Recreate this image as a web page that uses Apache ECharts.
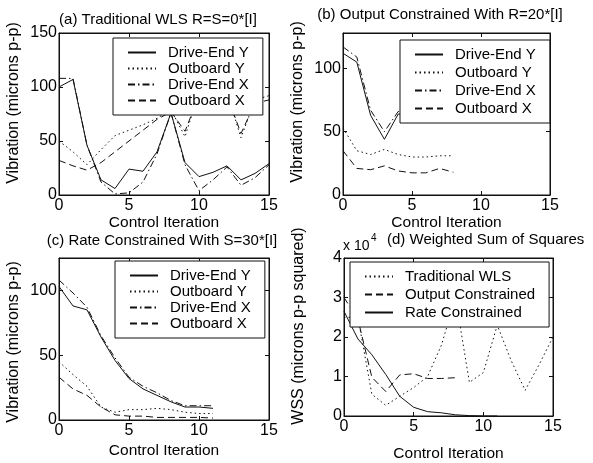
<!DOCTYPE html>
<html>
<head>
<meta charset="utf-8">
<script src="https://cdn.jsdelivr.net/npm/echarts@6/dist/echarts.min.js"></script>
<style>
  html, body { margin: 0; padding: 0; background: #fff; }
  #chart { width: 593px; height: 463px; }
</style>
</head>
<body>
<div id="chart"></div>
<script>
// iterations
const iterA = [0, 1, 2, 3, 4, 5, 6, 7, 8, 9, 10, 11, 12, 13, 14, 15]
const iterB = [0, 1, 2, 3, 4, 5, 6, 7, 8]
const iterC = [0, 1, 2, 3, 4, 5, 6, 7, 8, 9, 10, 11]

// (a) traditional WLS, microns p-p
const aDriveY = [100, 107, 46, 14, 6, 24, 22, 40, 76, 30, 17, 21, 27, 14, 20, 29]
const aOutY = [50, 40, 28, 42, 55, 60, 65, 71, 79, 54, 95, 100, 95, 53, 88, 92]
const aDriveX = [108, 108, 46, 12, 1, 2, 12, 38, 76, 28, 4, 14, 26, 9, 16, 28]
const aOutX = [32, 27, 23, 30, 40, 50, 60, 70, 77, 59, 92, 98, 92, 57, 85, 88]

// (b) output constrained
const bDriveY = [112, 105, 63, 44, 64, 63, 61, 61, 62]
const bOutY = [53, 35, 32, 36, 32, 30, 30, 31, 31]
const bDriveX = [117, 109, 67, 50, 66, 66, 64, 64, 65]
const bOutX = [35, 21, 20, 23, 19, 17.5, 17.5, 21, 18]

// (c) rate constrained
const cDriveY = [103, 88, 85, 64, 46, 32, 24, 19, 14, 10, 10, 9]
const cOutY = [45, 35, 26, 10, 6, 8, 8, 9, 8, 6, 5, 5]
const cDriveX = [108, 98, 87, 65, 48, 33, 26, 21, 15, 11, 11, 11]
const cOutX = [33, 24, 19, 10, 4, 3, 3, 2, 2, 2, 2, 1.5]

// (d) weighted sum of squares
const wssTrad = [25000, 25000, 5500, 2700, 5000, 7200, 10000, 18000, 30000, 8500, 11000, 23000, 14000, 6500, 13000, 20000]
const wssOutput = [30000, 24500, 9800, 6200, 10400, 10700, 9500, 9500, 9700]
const wssRate = [26500, 19500, 15500, 10500, 5000, 2200, 1100, 800, 300, 100, 0, 0]

const vibNames = ['Drive-End Y', 'Outboard Y', 'Drive-End X', 'Outboard X']
const wssNames = ['Traditional WLS', 'Output Constrained', 'Rate Constrained']

const FONT = 'Liberation Sans, Arial, sans-serif'
const INK = '#111'
const SOLID = 'solid'
const DOT = [1.5, 3]
const DASH = [7, 4]
const DASHDOT = [7, 3, 1.5, 3]

const grids = [
  { left: 59, top: 33, width: 210, height: 162 },
  { left: 343, top: 33, width: 207, height: 162 },
  { left: 59, top: 258, width: 210, height: 162 },
  { left: 344, top: 258, width: 209, height: 162 }
]

const yConf = [
  { max: 150, interval: 50, name: 'Vibration (microns p-p)', pad: [0, 0, 0, 22] },
  { max: 128, interval: 50, name: 'Vibration (microns p-p)', pad: [0, 0, 0, 24] },
  { max: 125, interval: 50, name: 'Vibration (microns p-p)', pad: [0, 6, 0, 0] },
  { max: 40000, interval: 10000, name: 'WSS (microns p-p squared)', pad: [0, 0, 0, 22], fmt: v => v / 10000 }
]
const xNameGap = [18, 17, 23, 30]

const tick = { show: true, inside: true, length: 4, lineStyle: { color: INK } }
const line = { show: true, onZero: false, lineStyle: { color: INK, width: 1 } }

const xAxis = []
const yAxis = []
grids.forEach((g, i) => {
  xAxis.push({
    type: 'value', gridIndex: i, min: 0, max: 15, interval: 5,
    axisLine: line, axisTick: tick, splitLine: { show: false },
    axisLabel: { color: '#000', fontFamily: FONT, fontSize: 16, margin: 3 },
    name: 'Control Iteration', nameLocation: 'middle', nameGap: xNameGap[i],
    nameTextStyle: { color: '#000', fontFamily: FONT, fontSize: 15.5 }
  })
  xAxis.push({
    type: 'value', gridIndex: i, position: 'top', min: 0, max: 15, interval: 5,
    axisLine: line, axisTick: tick, splitLine: { show: false }, axisLabel: { show: false }
  })
  const yc = yConf[i]
  yAxis.push({
    type: 'value', gridIndex: i, min: 0, max: yc.max, interval: yc.interval,
    axisLine: line, axisTick: tick, splitLine: { show: false },
    axisLabel: { color: '#000', fontFamily: FONT, fontSize: 16, margin: 2, showMaxLabel: yc.max % yc.interval === 0, formatter: yc.fmt },
    name: yc.name, nameLocation: 'middle', nameGap: 37,
    nameTextStyle: { color: '#000', fontFamily: FONT, fontSize: 16, padding: yc.pad }
  })
  yAxis.push({
    type: 'value', gridIndex: i, position: 'right', min: 0, max: yc.max, interval: yc.interval,
    axisLine: line, axisTick: tick, splitLine: { show: false }, axisLabel: { show: false }
  })
})

const mk = (name, xs, ys, dash, gi) => ({
  name, type: 'line', xAxisIndex: gi * 2, yAxisIndex: gi * 2,
  data: xs.map((x, k) => [x, ys[k]]),
  showSymbol: false, symbol: 'none',
  lineStyle: { color: INK, width: 1, type: dash }, itemStyle: { color: INK },
  emphasis: { disabled: true }
})

const series = [
  mk('Drive-End Y', iterA, aDriveY, SOLID, 0),
  mk('Outboard Y', iterA, aOutY, DOT, 0),
  mk('Drive-End X', iterA, aDriveX, DASHDOT, 0),
  mk('Outboard X', iterA, aOutX, DASH, 0),
  mk('Drive-End Y', iterB, bDriveY, SOLID, 1),
  mk('Outboard Y', iterB, bOutY, DOT, 1),
  mk('Drive-End X', iterB, bDriveX, DASHDOT, 1),
  mk('Outboard X', iterB, bOutX, DASH, 1),
  mk('Drive-End Y', iterC, cDriveY, SOLID, 2),
  mk('Outboard Y', iterC, cOutY, DOT, 2),
  mk('Drive-End X', iterC, cDriveX, DASHDOT, 2),
  mk('Outboard X', iterC, cOutX, DASH, 2),
  mk('Traditional WLS', iterA, wssTrad, DOT, 3),
  mk('Output Constrained', iterB, wssOutput, DASH, 3),
  mk('Rate Constrained', iterC, wssRate, SOLID, 3)
]

// legend swatch: line only, hide the default circle marker
const legendAt = (left, top, data, gap) => ({
  left, top, orient: 'vertical', data, itemGap: gap,
  itemWidth: 28, itemHeight: 14, padding: [7, 14, 7, 14],
  backgroundColor: '#fff', borderColor: INK, borderWidth: 1, borderRadius: 0,
  selectedMode: false,
  itemStyle: { opacity: 0 },
  textStyle: { color: '#000', fontFamily: FONT, fontSize: 15, padding: [0, 0, 0, 7] }
})

const txt = (x, y, text, size, align) => ({
  type: 'text', x, y,
  style: { text, fill: '#000', font: size + 'px ' + FONT, textAlign: align || 'center', textVerticalAlign: 'middle' }
})

const chart = echarts.init(document.getElementById('chart'))
chart.setOption({
  animation: false,
  backgroundColor: '#fff',
  grid: grids.map(g => Object.assign({ show: true, borderColor: INK, borderWidth: 1 }, g)),
  xAxis, yAxis, series,
  legend: [
    legendAt(113, 38, vibNames, 1),
    legendAt(400, 40, vibNames, 3),
    legendAt(115, 261, vibNames, 1),
    legendAt(350, 262, wssNames, 3)
  ],
  graphic: [
    txt(158, 20, '(a) Traditional WLS R=S=0*[I]', 15),
    txt(440, 15, '(b) Output Constrained With R=20*[I]', 15),
    txt(162, 241, '(c) Rate Constrained With S=30*[I]', 15),
    txt(387, 240, '(d) Weighted Sum of Squares', 15, 'left'),
    txt(343, 246, 'x 10', 14, 'left'),
    txt(371, 238, '4', 10, 'left')
  ]
})
</script>
</body>
</html>
